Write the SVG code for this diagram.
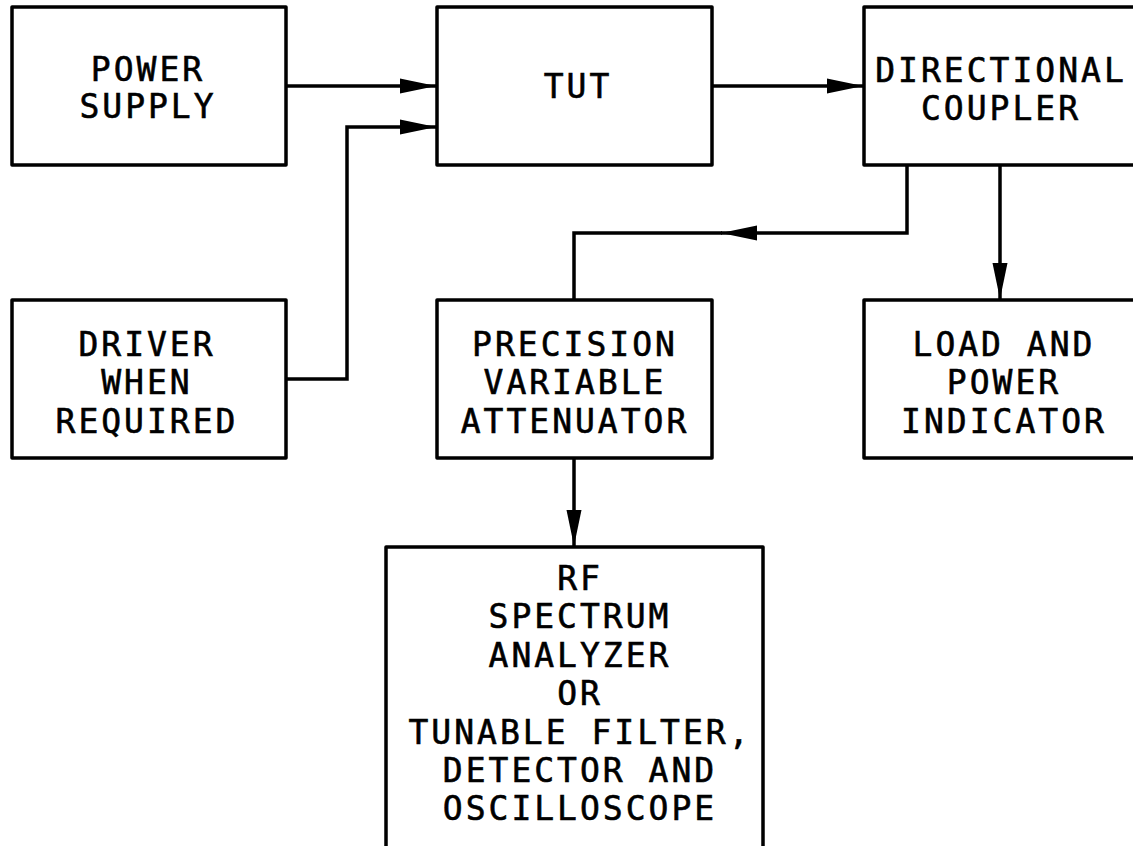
<svg xmlns="http://www.w3.org/2000/svg" width="1133" height="846" viewBox="0 0 1133 846">
<style>
.box{fill:#fff;stroke:#000;stroke-width:3.5;stroke-linejoin:round}
.wire{fill:none;stroke:#000;stroke-width:3.5;stroke-linejoin:miter}
.lbl{font-family:"DejaVu Sans Mono","Liberation Mono",monospace;font-size:33px;letter-spacing:3px;text-anchor:middle;fill:#000;stroke:#000;stroke-width:0.6}
</style>
<defs>
<marker id="arr" viewBox="-37 -8 38 16" markerWidth="38" markerHeight="16" refX="0" refY="0" orient="auto" markerUnits="userSpaceOnUse">
<path d="M0,0 L-36,-7.5 L-36,7.5 Z" fill="#000"/>
</marker>
</defs>
<rect width="1133" height="846" fill="#fff"/>
<g id="connectors">
<path class="wire" d="M286,86 H436" marker-end="url(#arr)"/>
<path class="wire" d="M286,379 H347 V127 H436" marker-end="url(#arr)"/>
<path class="wire" d="M712,86 H863" marker-end="url(#arr)"/>
<path class="wire" d="M907,165 V233 H721" marker-end="url(#arr)"/>
<path class="wire" d="M722,233 H574 V300"/>
<path class="wire" d="M1000,165 V299" marker-end="url(#arr)"/>
<path class="wire" d="M574,459 V546" marker-end="url(#arr)"/>
</g>
<g id="power-supply">
<rect class="box" x="12" y="7" width="274" height="158"/>
<text class="lbl" x="148" y="81">POWER</text>
<text class="lbl" x="148" y="118">SUPPLY</text>
</g>
<g id="tut">
<rect class="box" x="437" y="7" width="275" height="158"/>
<text class="lbl" x="578" y="98">TUT</text>
</g>
<g id="directional-coupler">
<rect class="box" x="864" y="7" width="280" height="158"/>
<text class="lbl" x="1001" y="82">DIRECTIONAL</text>
<text class="lbl" x="1001" y="120">COUPLER</text>
</g>
<g id="driver">
<rect class="box" x="12" y="300" width="274" height="158"/>
<text class="lbl" x="147" y="356">DRIVER</text>
<text class="lbl" x="147" y="394">WHEN</text>
<text class="lbl" x="147" y="433">REQUIRED</text>
</g>
<g id="attenuator">
<rect class="box" x="437" y="300" width="275" height="158"/>
<text class="lbl" x="575" y="356">PRECISION</text>
<text class="lbl" x="575" y="394">VARIABLE</text>
<text class="lbl" x="575" y="433">ATTENUATOR</text>
</g>
<g id="load">
<rect class="box" x="864" y="300" width="280" height="158"/>
<text class="lbl" x="1004" y="356">LOAD AND</text>
<text class="lbl" x="1004" y="394">POWER</text>
<text class="lbl" x="1004" y="433">INDICATOR</text>
</g>
<g id="analyzer">
<rect class="box" x="386" y="547" width="377" height="320"/>
<text class="lbl" x="580" y="590">RF</text>
<text class="lbl" x="580" y="628">SPECTRUM</text>
<text class="lbl" x="580" y="667">ANALYZER</text>
<text class="lbl" x="580" y="705">OR</text>
<text class="lbl" x="580" y="744">TUNABLE FILTER,</text>
<text class="lbl" x="580" y="782">DETECTOR AND</text>
<text class="lbl" x="580" y="820">OSCILLOSCOPE</text>
</g>
</svg>
